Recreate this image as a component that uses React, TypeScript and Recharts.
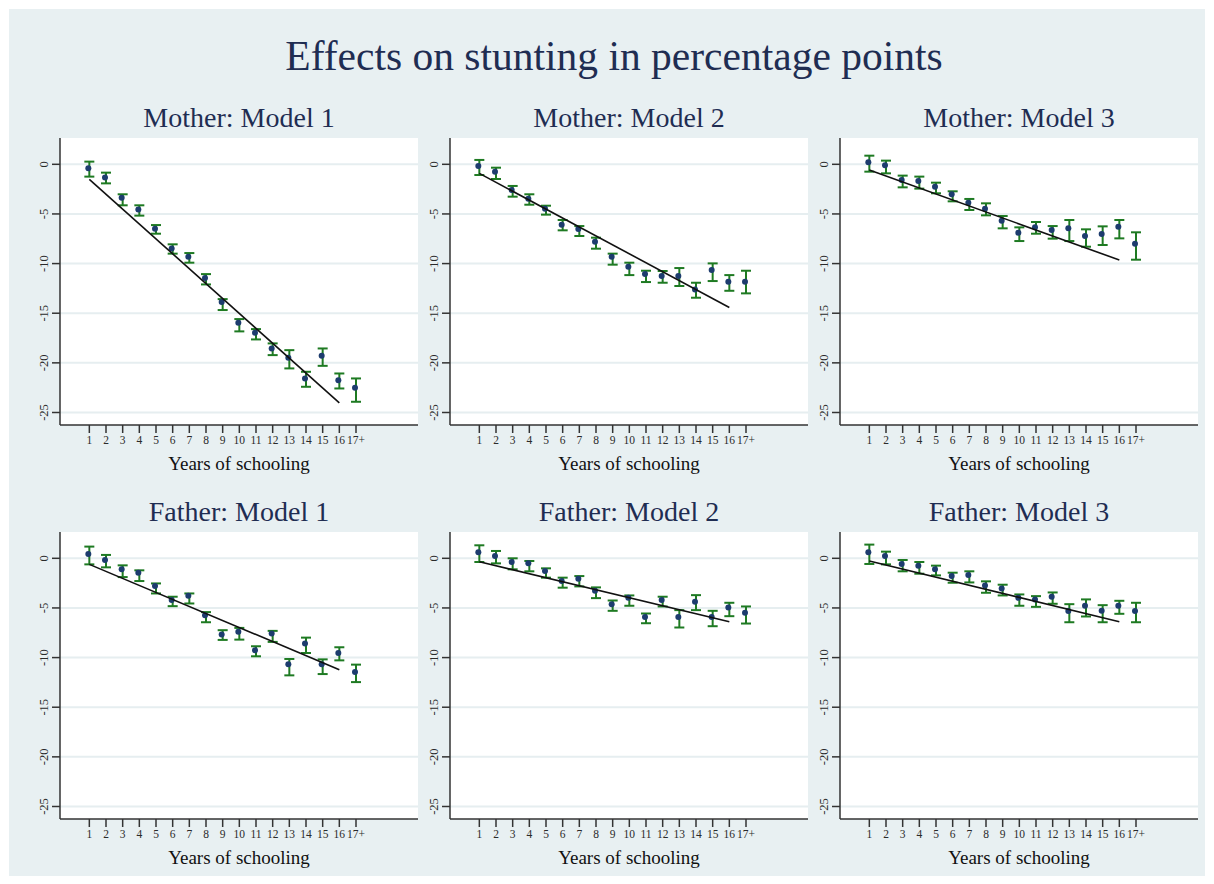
import React from 'react';
import { ComposedChart, Scatter, ErrorBar, XAxis, YAxis, CartesianGrid } from 'recharts';

const years = [1, 2, 3, 4, 5, 6, 7, 8, 9, 10, 11, 12, 13, 14, 15, 16, 17];
const yTicks = [0, -5, -10, -15, -20, -25];
const fitYears = [1, 16];

// Mother: Model 1
const m1Est = [-0.4, -1.34, -3.36, -4.54, -6.49, -8.47, -9.31, -11.46, -13.88, -15.96, -16.97, -18.55, -19.49, -21.57, -19.29, -21.74, -22.51];
const m1Lo = [-1.24, -1.92, -4.13, -5.17, -6.99, -9.0, -9.91, -12.1, -14.68, -16.83, -17.64, -19.22, -20.56, -22.41, -20.3, -22.58, -23.92];
const m1Hi = [0.27, -0.84, -3.02, -4.13, -6.12, -8.06, -8.94, -11.06, -13.58, -15.59, -16.6, -18.04, -18.72, -20.9, -18.55, -21.07, -21.57];
const m1Fit = [-1.51, -24.03];

// Mother: Model 2
const m2Est = [-0.17, -0.74, -2.59, -3.46, -4.47, -6.08, -6.52, -7.8, -9.31, -10.32, -11.06, -11.26, -11.26, -12.6, -10.65, -11.83, -11.83];
const m2Lo = [-1.08, -1.48, -3.26, -4.07, -5.07, -6.65, -7.22, -8.5, -10.11, -11.16, -11.86, -11.93, -12.26, -13.44, -11.76, -12.74, -13.0];
const m2Hi = [0.44, -0.34, -2.18, -3.02, -4.17, -5.61, -6.22, -7.39, -9.0, -9.91, -10.72, -10.75, -10.45, -11.93, -9.98, -11.16, -10.72];
const m2Fit = [-0.91, -14.42];

// Mother: Model 3
const m3Est = [0.2, -0.1, -1.58, -1.68, -2.25, -3.02, -3.86, -4.47, -5.68, -6.89, -6.35, -6.62, -6.45, -7.22, -7.02, -6.28, -8.0];
const m3Lo = [-0.74, -0.91, -2.32, -2.45, -2.92, -3.73, -4.6, -5.14, -6.45, -7.73, -6.99, -7.49, -7.73, -8.3, -8.13, -7.46, -9.61];
const m3Hi = [0.87, 0.37, -1.14, -1.24, -1.85, -2.72, -3.49, -3.93, -5.21, -6.35, -5.81, -6.22, -5.61, -6.55, -6.25, -5.61, -6.85];
const m3Fit = [-0.57, -9.64];

// Father: Model 1
const f1Est = [0.44, -0.17, -1.11, -1.45, -2.8, -4.21, -3.77, -5.73, -7.68, -7.41, -9.27, -7.58, -10.68, -8.59, -10.68, -9.54, -11.46];
const f1Lo = [-0.61, -0.91, -1.89, -2.29, -3.54, -4.82, -4.55, -6.44, -8.22, -8.19, -9.87, -8.42, -11.79, -9.54, -11.66, -10.28, -12.47];
const f1Hi = [1.18, 0.34, -0.71, -1.21, -2.53, -3.87, -3.54, -5.42, -7.24, -7.01, -8.86, -7.31, -10.14, -7.99, -10.18, -8.96, -10.71];
const f1Fit = [-0.61, -11.22];

// Father: Model 2
const f2Est = [0.61, 0.24, -0.37, -0.51, -1.28, -2.29, -2.06, -3.27, -4.62, -3.98, -5.9, -4.21, -5.9, -4.38, -5.9, -4.95, -5.49];
const f2Lo = [-0.37, -0.51, -1.11, -1.31, -1.95, -2.96, -2.83, -4.01, -5.29, -4.78, -6.54, -4.85, -6.97, -5.22, -6.84, -5.83, -6.57];
const f2Hi = [1.31, 0.74, 0.0, -0.27, -1.01, -1.95, -1.79, -2.93, -4.25, -3.74, -5.56, -3.87, -5.22, -3.71, -5.29, -4.48, -4.85];
const f2Fit = [-0.34, -6.4];

// Father: Model 3
const f3Est = [0.61, 0.24, -0.57, -0.74, -1.11, -1.79, -1.68, -2.73, -3.03, -3.98, -4.14, -3.87, -5.32, -4.78, -5.29, -4.78, -5.32];
const f3Lo = [-0.57, -0.61, -1.31, -1.55, -1.72, -2.46, -2.43, -3.47, -3.74, -4.78, -4.89, -4.58, -6.44, -5.86, -6.44, -5.59, -6.44];
const f3Hi = [1.38, 0.67, -0.17, -0.37, -0.74, -1.45, -1.31, -2.32, -2.66, -3.64, -3.81, -3.44, -4.62, -4.14, -4.72, -4.28, -4.48];
const f3Fit = [-0.27, -6.4];

const SERIF = '"Liberation Serif", "DejaVu Serif", serif';
const NAVY = '#1f2d52';
const GREEN = '#1e7a22';
const DOT = '#1d3c6e';
const AXIS = '#333';

const PLOT_W = 358;
const PLOT_H = 287;
const Y_W = 40;
const TOP_M = 8;
const X_H = 60;

const panels = [
  { title: 'Mother: Model 1', est: m1Est, lo: m1Lo, hi: m1Hi, fit: m1Fit, left: 60, top: 138 },
  { title: 'Mother: Model 2', est: m2Est, lo: m2Lo, hi: m2Hi, fit: m2Fit, left: 450, top: 138 },
  { title: 'Mother: Model 3', est: m3Est, lo: m3Lo, hi: m3Hi, fit: m3Fit, left: 840, top: 138 },
  { title: 'Father: Model 1', est: f1Est, lo: f1Lo, hi: f1Hi, fit: f1Fit, left: 60, top: 532 },
  { title: 'Father: Model 2', est: f2Est, lo: f2Lo, hi: f2Hi, fit: f2Fit, left: 450, top: 532 },
  { title: 'Father: Model 3', est: f3Est, lo: f3Lo, hi: f3Hi, fit: f3Fit, left: 840, top: 532 },
];

const YTick = (props: any) => {
  const { x, y, payload } = props;
  return (
    <text x={x} y={y} transform={`rotate(-90 ${x} ${y})`} textAnchor="middle"
      fontSize={12.5} fill="#2a2a2a" fontFamily={SERIF}>
      {payload.value}
    </text>
  );
};

const Dot = (props: any) => <circle cx={props.cx - 1} cy={props.cy} r={3} fill={DOT} />;
const NoShape = () => <g />;

const Panel = ({ p }: { p: (typeof panels)[number] }) => {
  const data = years.map((x, i) => ({ x, y: p.est[i], err: [p.est[i] - p.lo[i], p.hi[i] - p.est[i]] }));
  const fit = fitYears.map((x, i) => ({ x, y: p.fit[i] }));
  return (
    <>
      <div style={{ position: 'absolute', left: p.left - 20, top: p.top - 36, width: PLOT_W + 40, textAlign: 'center',
        fontFamily: SERIF, fontSize: 28, color: NAVY, lineHeight: '32px' }}>
        {p.title}
      </div>
      <div style={{ position: 'absolute', left: p.left - Y_W, top: p.top - TOP_M }}>
        <ComposedChart width={Y_W + PLOT_W} height={TOP_M + PLOT_H + X_H}
          margin={{ top: TOP_M, right: 0, bottom: 0, left: 0 }}>
          <CartesianGrid vertical={false} horizontalValues={yTicks} fill="#fff" stroke="#e6eef0" strokeWidth={2} />
          <XAxis dataKey="x" type="number" domain={[-0.76, 20.72]} ticks={years} allowDataOverflow
            tickFormatter={(v: number) => (v === 17 ? '17+' : String(v))} interval={0}
            height={X_H} tickSize={8} tickMargin={3}
            stroke={AXIS} strokeWidth={1.5}
            tick={{ fontSize: 11.5, fill: '#2a2a2a', fontFamily: SERIF }}
            label={{ value: 'Years of schooling', position: 'insideBottom', offset: 15, fontSize: 19, fill: '#111', fontFamily: SERIF }} />
          <YAxis dataKey="y" type="number" domain={[-26.26, 2.65]} ticks={yTicks} allowDataOverflow
            width={Y_W} tickSize={8} tickMargin={4} stroke={AXIS} strokeWidth={1.5} tick={<YTick />} />
          <Scatter data={data} shape={<Dot />} isAnimationActive={false}>
            <ErrorBar dataKey="err" direction="y" width={5} stroke={GREEN} strokeWidth={2} isAnimationActive={false} />
          </Scatter>
          <Scatter data={fit} shape={<NoShape />} line={{ stroke: '#111', strokeWidth: 1.6 }} isAnimationActive={false} />
        </ComposedChart>
      </div>
    </>
  );
};

export default function App() {
  return (
    <div style={{ position: 'absolute', left: 0, top: 0, width: 1214, height: 884, background: '#fff' }}>
      <div style={{ position: 'absolute', left: 9, top: 9, width: 1196, height: 867, background: '#e8f0f2' }} />
      <div style={{ position: 'absolute', left: 0, top: 32, width: 1228, textAlign: 'center',
        fontFamily: SERIF, fontSize: 41.5, color: NAVY, lineHeight: '48px' }}>
        Effects on stunting in percentage points
      </div>
      {panels.map((p) => <Panel key={p.title} p={p} />)}
    </div>
  );
}
